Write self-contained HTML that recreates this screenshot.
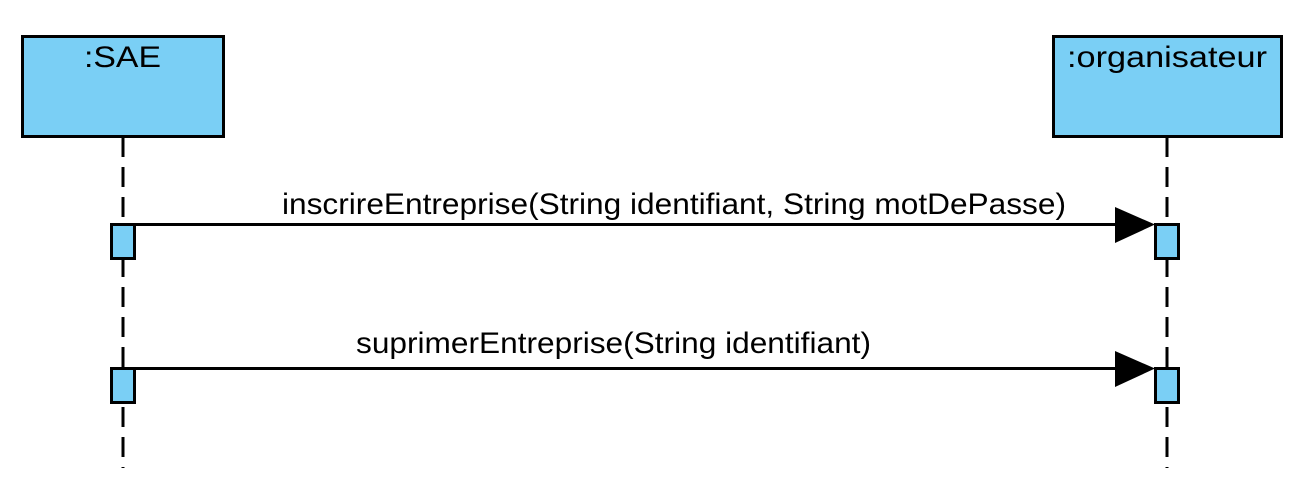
<!DOCTYPE html>
<html><head><meta charset="utf-8"><style>
html,body{margin:0;padding:0;background:#fff;width:1301px;height:490px;overflow:hidden}
svg text{font-family:"Liberation Sans",Arial,sans-serif;font-size:30px;fill:#000}
</style></head><body>
<svg width="1301" height="490" viewBox="0 0 1301 490" xmlns="http://www.w3.org/2000/svg">
<g stroke="#000" stroke-width="3" stroke-dasharray="20,10" fill="none">
<line x1="123" y1="137" x2="123" y2="468"/>
<line x1="1167" y1="137" x2="1167" y2="468"/>
</g>
<rect x="22.5" y="36.5" width="201" height="100" fill="#7acff5" stroke="#000" stroke-width="3"/>
<rect x="1053.5" y="36.5" width="228" height="100" fill="#7acff5" stroke="#000" stroke-width="3"/>
<text x="84" y="67" textLength="77" lengthAdjust="spacingAndGlyphs">:SAE</text>
<text x="1067" y="67" textLength="200" lengthAdjust="spacingAndGlyphs">:organisateur</text>
<g stroke="#000" stroke-width="3">
<line x1="135" y1="224.5" x2="1120" y2="224.5"/>
<line x1="135" y1="368.5" x2="1120" y2="368.5"/>
</g>
<polygon points="1115,207 1155,224.5 1115,243" fill="#000"/>
<polygon points="1115,351 1155,368.5 1115,387" fill="#000"/>
<g fill="#7acff5" stroke="#000" stroke-width="3">
<rect x="111.5" y="224.5" width="23" height="34"/>
<rect x="1155.5" y="224.5" width="23" height="34"/>
<rect x="111.5" y="368.5" width="23" height="34"/>
<rect x="1155.5" y="368.5" width="23" height="34"/>
</g>
<text x="282" y="214" textLength="784" lengthAdjust="spacingAndGlyphs">inscrireEntreprise(String identifiant, String motDePasse)</text>
<text x="356" y="353" textLength="515" lengthAdjust="spacingAndGlyphs">suprimerEntreprise(String identifiant)</text>
</svg>
</body></html>
